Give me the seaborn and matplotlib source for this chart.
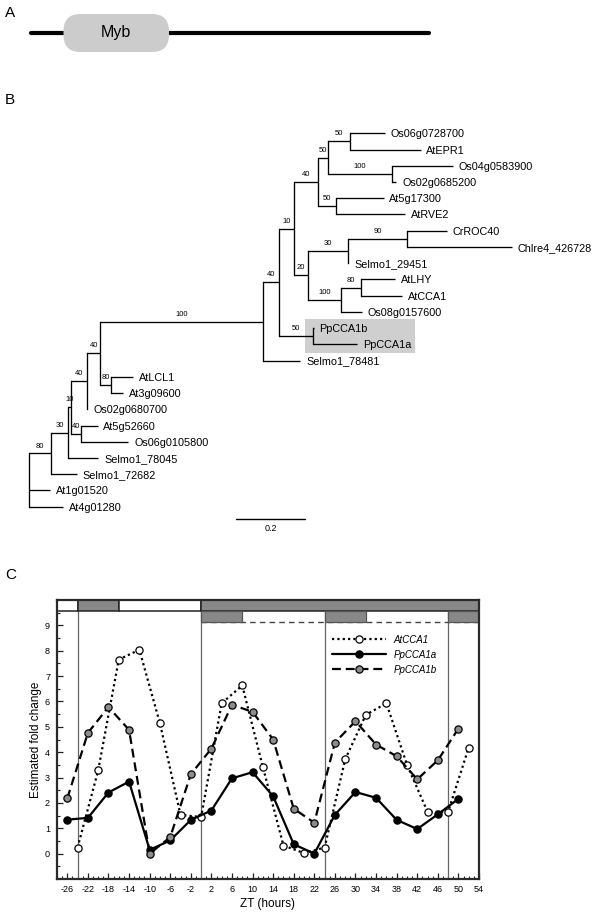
import numpy as np
import pandas as pd
import matplotlib
matplotlib.use("Agg")
import matplotlib.pyplot as plt
import seaborn as sns
from matplotlib.patches import FancyBboxPatch, Rectangle
from matplotlib.ticker import MultipleLocator
from matplotlib.transforms import Bbox

# ---------------- Panel A data (protein schematic) ----------------
protein_length = 600
myb_start, myb_end = 49, 208

# ---------------- Panel B data (phylogenetic tree) ----------------
node_names = ["root", "n80a", "n30", "n10a", "n40a", "n40b", "n100a", "n40c", "n10b", "n40d",
              "n50a", "n50b", "Os06g0728700", "AtEPR1", "n100b", "Os04g0583900", "Os02g0685200",
              "n50c", "At5g17300", "AtRVE2", "n20", "n30b", "n90", "CrROC40", "Chlre4_426728",
              "Selmo1_29451", "n100c", "n80b", "AtLHY", "AtCCA1", "Os08g0157600", "n50d",
              "PpCCA1b", "PpCCA1a", "Selmo1_78481", "n80c", "AtLCL1", "At3g09600",
              "Os02g0680700", "n40e", "At5g52660", "Os06g0105800", "Selmo1_78045",
              "Selmo1_72682", "At1g01520", "At4g01280"]
node_parents = [None, "root", "n80a", "n30", "n10a", "n40a", "n40b", "n100a", "n40c", "n10b",
                "n40d", "n50a", "n50b", "n50b", "n50a", "n100b", "n100b",
                "n40d", "n50c", "n50c", "n10b", "n20", "n30b", "n90", "n90",
                "n30b", "n20", "n100c", "n80b", "n80b", "n100c", "n40c",
                "n50d", "n50d", "n100a", "n40b", "n80c", "n80c",
                "n40a", "n10a", "n40e", "n40e", "n30",
                "n80a", "root", "root"]
node_lengths = [0.0, 0.062, 0.051, 0.008, 0.047, 0.037, 0.471, 0.049, 0.041, 0.070,
                0.030, 0.065, 0.099, 0.203, 0.186, 0.176, 0.012,
                0.054, 0.137, 0.200, 0.041, 0.118, 0.169, 0.116, 0.304,
                0.0, 0.097, 0.058, 0.099, 0.118, 0.060, 0.096,
                0.003, 0.129, 0.110, 0.032, 0.063, 0.036,
                0.0, 0.029, 0.048, 0.137, 0.087,
                0.075, 0.060, 0.097]
node_support = [None, 80, 30, 10, 40, 40, 100, 40, 10, 40,
                50, 50, None, None, 100, None, None,
                50, None, None, 20, 30, 90, None, None,
                None, 100, 80, None, None, None, 50,
                None, None, None, 80, None, None,
                None, 40, None, None, None,
                None, None, None]
highlight_leaves = ["PpCCA1b", "PpCCA1a"]
scale_bar_length = 0.2

# ---------------- Panel C data (time course) ----------------
at_zt = [-24, -20, -16, -12, -8, -4, 0, 4, 8, 12, 16, 20, 24, 28, 32, 36, 40, 44, 48, 52]
at_cca1 = [0.24, 3.28, 7.65, 8.04, 5.14, 1.53, 1.44, 5.93, 6.63, 3.42,
           0.32, 0.02, 0.24, 3.72, 5.47, 5.93, 3.51, 1.65, 1.65, 4.18]
pp_zt = [-26, -22, -18, -14, -10, -6, -2, 2, 6, 10, 14, 18, 22, 26, 30, 34, 38, 42, 46, 50]
pp_cca1a = [1.34, 1.41, 2.41, 2.84, 0.15, 0.52, 1.33, 1.70, 2.97, 3.21,
            2.26, 0.37, 0.00, 1.53, 2.43, 2.20, 1.33, 0.97, 1.55, 2.16]
pp_cca1b = [2.18, 4.76, 5.78, 4.88, 0.00, 0.65, 3.13, 4.14, 5.87, 5.59,
            4.50, 1.77, 1.22, 4.38, 5.22, 4.30, 3.84, 2.93, 3.68, 4.93]
cond_edges = [-28, -24, -16, 0, 54]
cond_dark = [False, True, False, True]
subj_edges = [0, 8, 24, 32, 48, 54]
subj_dark = [True, False, True, False, True]
day_lines = [-24, 0, 24, 48]
x_tick_labels = list(range(-26, 55, 4))
y_tick_labels = list(range(0, 10))

# ---------------- style ----------------
sns.set_style("white")
plt.rcParams['font.family'] = ['Liberation Sans', 'DejaVu Sans']
plt.rcParams['axes.unicode_minus'] = False
plt.rcParams['text.color'] = 'black'
plt.rcParams['axes.labelcolor'] = 'black'
plt.rcParams['xtick.color'] = 'black'
plt.rcParams['ytick.color'] = 'black'

W, H = 600, 914
fig = plt.figure(figsize=(W / 100, H / 100), dpi=100)


def px_axes(x0, y0, x1, y1):
    return fig.add_axes([x0 / W, 1 - y1 / H, (x1 - x0) / W, (y1 - y0) / H])


# panel letters
for letter, yc in [("A", 13), ("B", 100), ("C", 575)]:
    fig.text(5 / W, 1 - yc / H, letter, fontsize=11, ha="left", va="center")

# ================= Panel A =================
axa = px_axes(31, 10, 429, 56)
ppx = (429 - 31) / protein_length          # pixels per residue
half_h = (46 / ppx) / 2
axa.set_xlim(0, protein_length)
axa.set_ylim(-half_h, half_h)
axa.axis("off")
axa.plot([0, protein_length], [0, 0], color="black", lw=3.0, solid_capstyle="round",
         zorder=1, clip_on=False)
box_h = 38 / ppx
axa.add_patch(FancyBboxPatch((myb_start, -box_h / 2), myb_end - myb_start, box_h,
                             boxstyle="round,pad=0,rounding_size=%f" % (17 / ppx),
                             facecolor="#cccccc", edgecolor="none", zorder=2))
axa.text((myb_start + myb_end) / 2, 0, "Myb", fontsize=11.5, ha="center",
         va="center", zorder=3)

# ================= Panel B =================
axb = px_axes(0, 90, 600, 540)
unit_px = 345.0
root_px = 29.3
leaf_top_px, leaf_sp = 133.3, 16.235
axb.set_xlim(-root_px / unit_px, (600 - root_px) / unit_px)
axb.set_ylim((540 - leaf_top_px) / leaf_sp, (90 - leaf_top_px) / leaf_sp)
axb.axis("off")

length = dict(zip(node_names, node_lengths))
support = dict(zip(node_names, node_support))
parent = dict(zip(node_names, node_parents))
children = {n: [] for n in node_names}
for n, p in zip(node_names, node_parents):
    if p is not None:
        children[p].append(n)

xpos, ypos = {}, {}
counter = [0]


def layout(n, x):
    xpos[n] = x
    if not children[n]:
        ypos[n] = counter[0]
        counter[0] += 1
    else:
        for c in children[n]:
            layout(c, x + length[c])
        ypos[n] = (ypos[children[n][0]] + ypos[children[n][-1]]) / 2


layout("root", 0.0)
n_leaves = counter[0]

tree_lw = 0.95
for n in node_names:
    p = parent[n]
    if p is not None:
        axb.plot([xpos[p], xpos[n]], [ypos[n], ypos[n]], color="black", lw=tree_lw,
                 solid_capstyle="butt", zorder=3)
        if support[n] is not None:
            axb.annotate(str(support[n]), ((xpos[p] + xpos[n]) / 2, ypos[n]),
                         xytext=(0, 4.3), textcoords="offset points", ha="center",
                         va="baseline", fontsize=5.5, zorder=4)
    if children[n]:
        axb.plot([xpos[n], xpos[n]], [ypos[children[n][0]], ypos[children[n][-1]]],
                 color="black", lw=tree_lw, solid_capstyle="projecting", zorder=3)

leaf_texts = {}
for n in node_names:
    if not children[n]:
        leaf_texts[n] = axb.annotate(n, (xpos[n], ypos[n]), xytext=(4.2, 0),
                                     textcoords="offset points", ha="left",
                                     va="center_baseline", fontsize=7.8, zorder=4)

# scale bar
sb_x0 = 0.6
sb_y = n_leaves - 1 + 0.78
axb.plot([sb_x0, sb_x0 + scale_bar_length], [sb_y, sb_y], color="black", lw=1.0)
axb.text(sb_x0 + scale_bar_length / 2, sb_y + 0.3, f"{scale_bar_length:.1f}",
         ha="center", va="top", fontsize=6.5)

# highlight box around PpCCA1 genes
fig.canvas.draw()
rend = fig.canvas.get_renderer()
bbs = [leaf_texts[n].get_window_extent(rend) for n in highlight_leaves]
bb = Bbox.union(bbs).transformed(axb.transData.inverted())
hp = parent[highlight_leaves[0]]
hx0 = xpos[hp] - 8 / unit_px
hx1 = max(bb.x0, bb.x1) + 4 / unit_px
hy0 = ypos[highlight_leaves[0]] - 0.57
hy1 = ypos[highlight_leaves[-1]] + 0.51
axb.add_patch(Rectangle((hx0, hy0), hx1 - hx0, hy1 - hy0, facecolor="#cfcfcf",
                        edgecolor="none", zorder=1))

# ================= Panel C =================
axc = px_axes(57, 600, 479, 879)
df_at = pd.DataFrame({"ZT": at_zt, "fold": at_cca1})
df_a = pd.DataFrame({"ZT": pp_zt, "fold": pp_cca1a})
df_b = pd.DataFrame({"ZT": pp_zt, "fold": pp_cca1b})

common = dict(x="ZT", y="fold", ax=axc, color="black", marker="o", markersize=5.2,
              markeredgecolor="black", markeredgewidth=0.9, errorbar=None, zorder=5)
sns.lineplot(data=df_at, linestyle=(0, (1.0, 1.4)), lw=1.6, markerfacecolor="white",
             label="AtCCA1", **common)
sns.lineplot(data=df_a, linestyle="-", lw=1.6, markerfacecolor="black",
             label="PpCCA1a", **common)
sns.lineplot(data=df_b, linestyle=(0, (4.0, 2.2)), lw=1.6, markerfacecolor="#8c8c8c",
             label="PpCCA1b", **common)

axc.set_xlim(cond_edges[0], cond_edges[-1])
axc.set_ylim(-1, 10)

bar_h = 0.433
top_y0 = 10 - bar_h
sub_y0 = top_y0 - bar_h
axc.vlines(day_lines, -1, top_y0, color="#666666", lw=0.9, zorder=1)
for x0, x1, dark in zip(cond_edges[:-1], cond_edges[1:], cond_dark):
    axc.add_patch(Rectangle((x0, top_y0), x1 - x0, bar_h,
                            facecolor="#888888" if dark else "white",
                            edgecolor="#222222", lw=1.1, zorder=3, clip_on=False))
axc.hlines(sub_y0, subj_edges[0], subj_edges[-1], color="#444444", lw=1.0,
           linestyles=(0, (4, 3)), zorder=3)
for x0, x1, dark in zip(subj_edges[:-1], subj_edges[1:], subj_dark):
    if dark:
        axc.add_patch(Rectangle((x0, sub_y0), x1 - x0, bar_h, facecolor="#888888",
                                edgecolor="#555555", lw=0.9, zorder=3))

axc.set_xticks(x_tick_labels)
axc.set_xticklabels([str(v) for v in x_tick_labels])
axc.xaxis.set_minor_locator(MultipleLocator(1))
axc.set_yticks(y_tick_labels)
axc.set_yticklabels([str(v) for v in y_tick_labels])
axc.yaxis.set_minor_locator(MultipleLocator(0.5))
axc.tick_params(axis="both", which="major", direction="in", length=4.5, width=0.9,
                labelsize=6.5, color="#222222", top=False, right=False,
                bottom=True, left=True)
axc.tick_params(axis="x", which="major", pad=4.5)
axc.tick_params(axis="y", which="major", pad=5)
axc.tick_params(axis="both", which="minor", direction="in", length=2.2, width=0.8,
                color="#222222", top=False, right=False, bottom=True, left=True)
for sp in axc.spines.values():
    sp.set_linewidth(1.6)
    sp.set_color("#2a2a2a")
    sp.set_zorder(6)
axc.set_xlabel("ZT (hours)", fontsize=8.5, labelpad=2.5)
axc.set_ylabel("Estimated fold change", fontsize=8.5, labelpad=2)

axc.legend(loc="upper left", bbox_to_anchor=(0.651, 0.875), frameon=False,
           prop={"style": "italic", "size": 7}, handlelength=5.6, handletextpad=0.75,
           labelspacing=0.5, borderpad=0, borderaxespad=0)

fig.savefig("out.png", dpi=100)
